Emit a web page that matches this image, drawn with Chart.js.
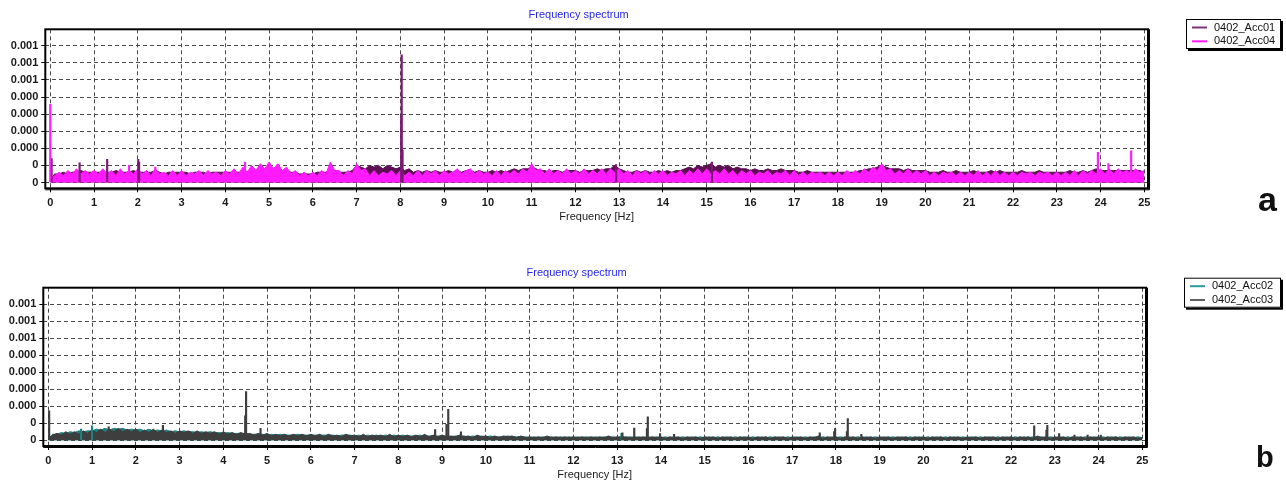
<!DOCTYPE html>
<html>
<head>
<meta charset="utf-8">
<script src="https://cdn.jsdelivr.net/npm/chart.js@4.4.1/dist/chart.umd.min.js"></script>
<style>
  html, body { margin: 0; padding: 0; background: #fff; }
  .panel { position: absolute; left: 0; width: 1286px; }
  #wrapA { top: 0; height: 241px; }
  #wrapB { top: 241px; height: 242px; }
</style>
</head>
<body>
<div class="panel" id="wrapA"><canvas id="chartA" width="1286" height="241"></canvas></div>
<div class="panel" id="wrapB"><canvas id="chartB" width="1286" height="242"></canvas></div>
<script>
// amplitudes are in units of 1e-5, sampled every 0.1 Hz from 0 to 25 Hz
const freq = Array.from({length: 251}, (_, i) => i / 10);

const xTicks = [0, 1, 2, 3, 4, 5, 6, 7, 8, 9, 10, 11, 12, 13, 14, 15, 16, 17, 18, 19, 20, 21, 22, 23, 24, 25];
const yTicks = [0, 10, 20, 30, 40, 50, 60, 70, 80];
const yTickLabels = ['0', '0', '0.000', '0.000', '0.000', '0.000', '0.001', '0.001', '0.001'];

// panel a - noise floor envelopes
const acc01 = [
  2, 5, 5, 6, 5, 6, 6, 7, 6, 6,
  6, 6, 6, 6, 6, 7, 6, 6, 6, 7,
  6, 6, 6, 6, 7, 6, 5, 6, 6, 6,
  6, 6, 5, 6, 6, 6, 5, 6, 6, 6,
  6, 6, 6, 6, 6, 6, 7, 7, 8, 8,
  8, 8, 8, 7, 7, 6, 6, 5, 5, 5,
  5, 6, 6, 6, 8, 7, 6, 6, 6, 7,
  10, 9, 8, 10, 9, 10, 8, 10, 9, 8,
  9, 7, 8, 6, 7, 6, 7, 6, 7, 6,
  6, 7, 6, 7, 6, 7, 7, 6, 7, 6,
  6, 7, 6, 7, 6, 7, 8, 7, 8, 8,
  9, 8, 7, 7, 6, 7, 7, 6, 7, 7,
  7, 6, 7, 7, 7, 8, 7, 8, 8, 10,
  8, 7, 6, 6, 7, 6, 7, 6, 6, 7,
  6, 7, 6, 7, 7, 8, 9, 8, 10, 9,
  10, 11, 9, 10, 9, 10, 8, 9, 8, 8,
  7, 8, 7, 7, 8, 7, 7, 8, 7, 7,
  7, 6, 6, 7, 6, 6, 6, 6, 6, 6,
  6, 6, 6, 6, 6, 7, 7, 8, 8, 9,
  10, 9, 8, 8, 8, 7, 8, 7, 7, 7,
  7, 6, 6, 6, 7, 6, 6, 7, 6, 6,
  6, 7, 6, 6, 6, 7, 6, 7, 6, 6,
  6, 6, 7, 6, 6, 6, 7, 6, 6, 6,
  6, 6, 6, 7, 6, 6, 7, 6, 7, 8,
  7, 7, 7, 7, 7, 7, 7, 7, 7, 7,
  6
];
const acc04 = [
  2, 4, 6, 4, 7, 5, 8, 5, 7, 5,
  7, 5, 8, 5, 7, 4, 8, 5, 7, 5,
  8, 5, 7, 4, 8, 5, 6, 4, 7, 4,
  7, 4, 6, 5, 7, 4, 7, 5, 6, 4,
  7, 5, 8, 5, 9, 6, 10, 7, 11, 8,
  12, 8, 11, 7, 9, 5, 7, 4, 6, 4,
  6, 4, 7, 5, 12, 7, 7, 4, 7, 5,
  11, 7, 8, 4, 7, 4, 6, 5, 7, 4,
  7, 4, 6, 4, 7, 4, 7, 5, 7, 4,
  7, 5, 6, 8, 5, 7, 8, 5, 7, 5,
  6, 4, 7, 4, 7, 5, 7, 5, 8, 6,
  11, 7, 8, 5, 8, 5, 7, 5, 8, 5,
  7, 5, 8, 5, 7, 5, 8, 5, 8, 6,
  8, 5, 7, 4, 7, 5, 7, 4, 7, 5,
  7, 4, 6, 5, 7, 4, 7, 5, 8, 5,
  8, 5, 7, 5, 8, 5, 7, 4, 7, 5,
  7, 4, 6, 5, 7, 4, 6, 5, 7, 4,
  7, 4, 6, 4, 6, 5, 6, 4, 6, 4,
  6, 4, 7, 5, 7, 5, 8, 6, 9, 7,
  11, 7, 8, 5, 7, 5, 8, 5, 7, 5,
  7, 4, 6, 4, 6, 5, 6, 4, 6, 4,
  6, 4, 7, 4, 6, 4, 7, 4, 6, 4,
  6, 4, 6, 5, 6, 4, 6, 5, 6, 4,
  6, 4, 6, 4, 7, 4, 7, 5, 7, 5,
  8, 5, 8, 5, 8, 6, 7, 5, 8, 6,
  7
];
// panel a - narrow peaks
const peak01Freq = [0.03, 0.67, 1.30, 2.01, 2.03, 8.02, 8.03, 8.05, 12.93, 15.12];
const peak01Amp = [14, 11.5, 13.6, 13.6, 12, 38.5, 74.7, 19, 10.5, 12];
const peak04Freq = [0.0, 1.80, 2.40, 4.45, 23.94, 24.18, 24.70];
const peak04Amp = [45.7, 10, 9, 12, 17.6, 11, 18.5];

// panel b - noise floor envelopes
const acc02 = [
  1, 3.5, 3.5, 4.5, 4, 5, 4.5, 5.5, 5, 5.5,
  5.5, 6.5, 6, 7, 6, 7, 6.5, 7, 6, 6.5,
  6, 6.5, 5.5, 6.5, 5.5, 6, 5.5, 6, 5, 5.5,
  5, 5.5, 5, 5, 4.5, 5, 4.5, 5, 4.5, 4.5,
  4, 4.5, 4, 4, 4, 4, 3.5, 3.5, 3.5, 3.5,
  3, 3.5, 3, 3.5, 3, 3, 3, 3.5, 3, 3,
  3, 3, 3, 3, 3, 3, 2.5, 3, 3, 3,
  2.5, 3, 2.5, 3, 2.5, 3, 2.5, 3, 2.5, 3,
  2.5, 3, 2.5, 2.5, 2.5, 3, 2.5, 2.5, 2.5, 2.5,
  2.5, 2.5, 2, 2.5, 2.5, 2.5, 2, 2.5, 2, 2.5,
  2, 2.5, 2, 2, 2, 2.5, 2, 2, 2, 2,
  1.5, 2, 1.5, 2, 1.5, 2, 1.5, 2, 1.5, 2,
  1.5, 2, 1.5, 2, 1.5, 2, 1.5, 2, 1.5, 2,
  1.5, 2.5, 1.5, 2, 1.5, 2, 1.5, 2, 1.5, 2,
  1.5, 2, 1.5, 2, 1.5, 2, 1.5, 2, 1.5, 2,
  1.5, 2, 1.5, 2, 1.5, 2, 1.5, 2, 1.5, 2,
  1.5, 2, 1.5, 2, 1.5, 2, 1.5, 2, 1.5, 2,
  1.5, 2, 1.5, 2, 1.5, 2, 1.5, 2, 1.5, 2,
  1.5, 2, 1.5, 2, 1.5, 2, 1.5, 2, 1.5, 2,
  1.5, 2, 1.5, 2, 1.5, 2, 1.5, 2, 1.5, 2,
  1.5, 2, 1.5, 2, 1.5, 2, 1.5, 2, 1.5, 2,
  1.5, 2, 1.5, 2, 1.5, 2, 1.5, 2, 1.5, 2,
  1.5, 2, 1.5, 2, 1.5, 2, 1.5, 2, 1.5, 2,
  1.5, 2, 1.5, 2, 1.5, 2, 1.5, 2, 1.5, 2,
  1.5, 2, 1.5, 2, 1.5, 2, 1.5, 2, 1.5, 2,
  1.5
];
const acc03 = [
  1, 3, 4, 3, 5, 3.5, 5, 3.5, 5.5, 4,
  6, 4.5, 6.5, 4.5, 6.5, 5, 7, 5, 6.5, 5,
  6.5, 4.5, 6, 4.5, 6.5, 4.5, 6, 4.5, 5.5, 4,
  5.5, 4.5, 5.5, 4, 5.5, 4, 5, 4, 5, 3.5,
  5, 3.5, 4.5, 3.5, 4.5, 3.5, 4, 3, 4, 3,
  4, 2.5, 3.5, 2.5, 3.5, 2.5, 3.5, 2.5, 3.5, 2.5,
  3.5, 2.5, 3.5, 2, 3.5, 2.5, 3, 2, 3.5, 2.5,
  3, 2, 3.5, 2, 3, 2.5, 3, 2, 3.5, 2,
  3, 2, 3, 2, 3, 2, 3.5, 2, 3, 2,
  3, 2, 2.5, 2, 3, 2, 2.5, 1.5, 3, 2,
  2.5, 1.5, 2.5, 1.5, 2.5, 2, 2.5, 1.5, 2.5, 1.5,
  2, 1.5, 2, 1.5, 2.5, 1.5, 2, 1.5, 2, 1.5,
  2, 1.5, 2, 1.5, 2, 1.5, 2, 1.5, 2.5, 1.5,
  2, 1.5, 2, 1.5, 2, 1.5, 2, 1.5, 2, 1.5,
  2, 1, 2, 1.5, 2, 1, 2, 1.5, 2, 1,
  2, 1.5, 2, 1, 2, 1.5, 2, 1, 2, 1.5,
  2, 1, 2, 1.5, 2, 1, 2, 1.5, 2, 1,
  2, 1.5, 2, 1, 2, 1.5, 2.5, 1, 2, 1.5,
  2, 1, 2, 1.5, 2, 1, 2, 1.5, 2, 1,
  2, 1.5, 2, 1, 2, 1.5, 2, 1, 2, 1.5,
  2, 1, 2, 1.5, 2, 1, 2, 1.5, 2, 1,
  2, 1.5, 2, 1, 2, 1.5, 2, 1, 2, 1.5,
  2, 1, 2, 1.5, 2, 1, 2.5, 1.5, 2, 1,
  2, 1.5, 2, 1, 2, 1.5, 2, 1, 2, 1.5,
  2, 1, 2, 1.5, 2, 1, 2, 1.5, 2, 1,
  1.5
];
// panel b - narrow peaks
const peak02Freq = [0.75, 1.00, 13.10];
const peak02Amp = [6.5, 8.4, 4];
const peak03Freq = [0.02, 1.38, 2.62, 4.50, 4.52, 4.85, 8.84, 9.10, 9.14, 9.43, 13.12, 13.39, 13.68, 13.70, 13.98, 14.30,
  17.63, 17.96, 17.98, 18.25, 18.27, 18.58, 22.53, 22.81, 22.83, 23.10, 23.45, 23.75, 24.05];
const peak03Amp = [17.3, 7.8, 8.8, 14.3, 28.6, 7, 6.3, 9.4, 18.2, 4.9, 4.3, 7.2, 6.9, 13.7, 3.9, 3.5,
  4.3, 5, 6.9, 5, 12.7, 3.5, 8.4, 6, 8.8, 3.9, 3, 3, 3];

Chart.defaults.font.family = "'Liberation Sans', Arial, sans-serif";
Chart.defaults.font.size = 11;

const panelDecor = {
  id: 'panelDecor',
  afterDatasetsDraw(chart, args, o) {
    const {ctx, chartArea: a} = chart;
    ctx.save();
    ctx.strokeStyle = '#000';
    ctx.lineWidth = 2;
    ctx.strokeRect(a.left, a.top, a.right - a.left, a.bottom - a.top);
    ctx.lineWidth = 1;
    ctx.beginPath();
    ctx.moveTo(a.left, a.bottom + 1.5);
    ctx.lineTo(a.right + 1.5, a.bottom + 1.5);
    ctx.lineTo(a.right + 1.5, a.top);
    ctx.stroke();
    ctx.restore();
  },
  afterDraw(chart, args, o) {
    const {ctx, chartArea: a} = chart;
    ctx.save();
    // title
    ctx.fillStyle = '#2828f0';
    ctx.font = "11px 'Liberation Sans', Arial, sans-serif";
    ctx.textAlign = 'center';
    ctx.textBaseline = 'middle';
    ctx.fillText(o.title, (a.left + a.right) / 2 - 18, o.titleY);
    // legend box with shadow
    ctx.fillStyle = '#000';
    ctx.fillRect(o.legendX + 2, o.legendY + 2, o.legendW, o.legendH);
    ctx.fillStyle = '#fff';
    ctx.fillRect(o.legendX, o.legendY, o.legendW, o.legendH);
    ctx.strokeStyle = '#000';
    ctx.lineWidth = 1;
    ctx.strokeRect(o.legendX + 0.5, o.legendY + 0.5, o.legendW - 1, o.legendH - 1);
    const items = chart.data.datasets.filter(d => d.type === 'line');
    ctx.textAlign = 'left';
    items.forEach((d, k) => {
      const y = o.legendY + 8.5 + k * 13.8;
      ctx.strokeStyle = d.legendColor;
      ctx.lineWidth = 2;
      ctx.beginPath();
      ctx.moveTo(o.legendX + 6, y);
      ctx.lineTo(o.legendX + 21, y);
      ctx.stroke();
      ctx.fillStyle = '#111';
      ctx.fillText(d.label, o.legendX + 28, y);
    });
    // panel letter
    ctx.fillStyle = '#111';
    ctx.font = 'bold ' + o.letterSize + "px 'Liberation Sans', Arial, sans-serif";
    ctx.textBaseline = 'alphabetic';
    ctx.fillText(o.letter, o.letterX, o.letterY);
    ctx.restore();
  }
};

function spectrum(canvasId, series, geo) {
  const datasets = [];
  series.forEach(s => {
    datasets.push({
      type: 'line',
      label: s.label,
      data: freq.map((f, i) => ({x: f, y: s.floor[i]})),
      borderColor: s.color,
      backgroundColor: s.color,
      legendColor: s.legendColor,
      borderWidth: 1,
      pointRadius: 0,
      tension: 0,
      fill: 'origin',
      order: s.order + 10
    });
    datasets.push({
      type: 'bar',
      label: s.label + ' peaks',
      data: s.peakFreq.map((f, i) => ({x: f, y: s.peakAmp[i]})),
      backgroundColor: s.peakColor,
      borderWidth: 0,
      barThickness: 1.5,
      grouped: false,
      order: s.order
    });
  });

  const tickFont = {size: 11, weight: 'bold'};
  return new Chart(document.getElementById(canvasId), {
    type: 'line',
    data: {datasets: datasets},
    options: {
      responsive: false,
      animation: false,
      events: [],
      layout: {padding: {left: 0, top: geo.top, right: 1286 - geo.right, bottom: 0}},
      plugins: {
        legend: {display: false},
        tooltip: {enabled: false},
        panelDecor: geo
      },
      scales: {
        x: {
          type: 'linear',
          min: -0.114,
          max: 25.085,
          offset: false,
          afterBuildTicks: s => { s.ticks = xTicks.map(v => ({value: v})); },
          afterFit: s => { s.height = geo.xAxisH; },
          grid: {offset: false, color: '#4a4a4a', lineWidth: 1, drawTicks: true, tickLength: 4, tickColor: '#000'},
          border: {display: false, dash: [4, 3]},
          ticks: {autoSkip: false, maxRotation: 0, padding: 4, color: '#1a1a1a', font: tickFont},
          title: {display: true, text: 'Frequency [Hz]', color: '#1a1a1a', font: {size: 11},
            padding: {top: 0, bottom: geo.titlePad}}
        },
        y: {
          type: 'linear',
          min: -3.4,
          max: 89.6,
          afterBuildTicks: s => { s.ticks = yTicks.map(v => ({value: v})); },
          afterFit: s => { s.width = geo.left; },
          grid: {color: '#4a4a4a', lineWidth: 1, drawTicks: true, tickLength: 4, tickColor: '#000'},
          border: {display: false, dash: [4, 3]},
          ticks: {autoSkip: false, padding: 3, color: '#1a1a1a', font: tickFont,
            callback: (v, i) => yTickLabels[i]}
        }
      }
    },
    plugins: [panelDecor]
  });
}

spectrum('chartA', [
  {label: '0402_Acc01', floor: acc01, peakFreq: peak01Freq, peakAmp: peak01Amp,
    color: '#5c1052', peakColor: '#7a1a72', legendColor: '#80307a', order: 1},
  {label: '0402_Acc04', floor: acc04, peakFreq: peak04Freq, peakAmp: peak04Amp,
    color: '#ff1aff', peakColor: '#ff1aff', legendColor: '#ff1aff', order: 0}
], {
  top: 29.3, left: 45.3, right: 1148, xAxisH: 52.7, titlePad: 17.4,
  title: 'Frequency spectrum', titleY: 15,
  legendX: 1186, legendY: 19, legendW: 95, legendH: 30,
  letter: 'a', letterSize: 34, letterX: 1258, letterY: 211
});

spectrum('chartB', [
  {label: '0402_Acc02', floor: acc02, peakFreq: peak02Freq, peakAmp: peak02Amp,
    color: '#1f7f80', peakColor: '#1f7f80', legendColor: '#2a9a9c', order: 1},
  {label: '0402_Acc03', floor: acc03, peakFreq: peak03Freq, peakAmp: peak03Amp,
    color: '#3e3e3e', peakColor: '#3e3e3e', legendColor: '#606060', order: 0}
], {
  top: 46.7, left: 43.3, right: 1146, xAxisH: 37, titlePad: 1.4,
  title: 'Frequency spectrum', titleY: 32,
  legendX: 1184, legendY: 36.7, legendW: 97, legendH: 30,
  letter: 'b', letterSize: 29, letterX: 1256, letterY: 225.7
});
</script>
</body>
</html>
